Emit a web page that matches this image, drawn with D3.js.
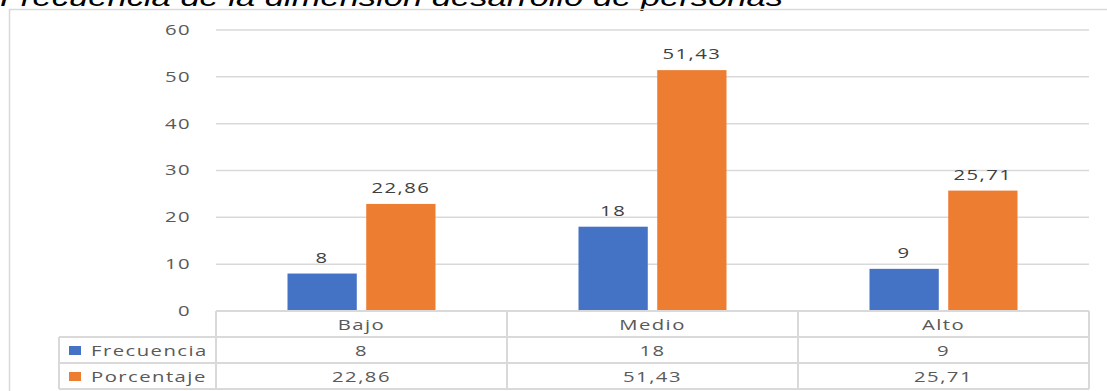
<!DOCTYPE html>
<html lang="es">
<head>
  <meta charset="UTF-8">
  <title>Frecuencia de la dimensión desarrollo de personas</title>
  <script src="https://d3js.org/d3.v7.min.js"></script>
  <style>
    body { margin: 0; background: white; font-family: "Open Sans", Arial, sans-serif; }
    svg { display: block; }
  </style>
</head>
<body>
<div id="chart"></div>
<script>
// data
var categories = ["Bajo", "Medio", "Alto"];
var seriesNames = ["Frecuencia", "Porcentaje"];
var frecuencia = [8, 18, 9];
var porcentaje = [22.86, 51.43, 25.71];
var tableFrecuencia = ["8", "18", "9"];
var tablePorcentaje = ["22,86", "51,43", "25,71"];
var yTicks = [0, 10, 20, 30, 40, 50, 60];
var colors = ["#4472c4", "#ed7d31"];

var width = 1107, height = 391;
var plotLeft = 216, plotRight = 1089, plotTop = 30, plotBottom = 311;
var rowH = 26;
var fs = 14, stretch = 1.45, spacing = 1;

var svg = d3.select("#chart").append("svg")
  .attr("width", width)
  .attr("height", height);

// place a horizontally stretched text at (x, y)
function put(sel, xf, yf) {
  sel.attr("transform", function(d, i){
    return "translate(" + xf(d, i) + "," + yf(d, i) + ") scale(" + stretch + ",1)";
  })
  .attr("font-size", fs)
  .attr("letter-spacing", spacing);
}

// title, cut off at the top
svg.append("text")
  .attr("x", 0).attr("y", 6)
  .attr("font-family", "Liberation Sans, Arial, sans-serif")
  .attr("font-style", "italic")
  .attr("font-size", 26)
  .attr("textLength", 783)
  .attr("lengthAdjust", "spacingAndGlyphs")
  .attr("fill", "#000")
  .text("Frecuencia de la dimensión desarrollo de personas");

// outer frame
svg.append("rect")
  .attr("x", 9.5).attr("y", 9.5)
  .attr("width", width).attr("height", height)
  .attr("fill", "none")
  .attr("stroke", "#d9d9d9")
  .attr("stroke-width", 1.5);

var y = d3.scaleLinear().domain([0, 60]).range([plotBottom, plotTop]);
var x0 = d3.scaleBand().domain(categories).range([plotLeft, plotRight]);
var x1 = d3.scaleBand().domain(seriesNames).range([0, 148]).paddingInner(0.12);

// gridlines
svg.append("g").selectAll("line")
  .data(yTicks.filter(function(d){ return d > 0; }))
  .enter().append("line")
  .attr("x1", plotLeft).attr("x2", plotRight)
  .attr("y1", function(d){ return y(d); })
  .attr("y2", function(d){ return y(d); })
  .attr("stroke", "#d9d9d9")
  .attr("stroke-width", 1.5);

// y axis labels
var yAxis = d3.axisLeft(y).tickValues(yTicks).tickSize(0).tickPadding(0);
var gy = svg.append("g")
  .attr("transform", "translate(191,0)")
  .call(yAxis);
gy.select(".domain").remove();
gy.selectAll("text")
  .attr("font-family", "Open Sans, sans-serif")
  .attr("font-size", fs)
  .attr("letter-spacing", spacing)
  .attr("transform", "scale(" + stretch + ",1)")
  .attr("fill", "#595959");

// bars
var series = [frecuencia, porcentaje];
var labels = [tableFrecuencia, tablePorcentaje];
function barX(i, s) {
  return x0(categories[i]) + x0.bandwidth() / 2 - 74 + x1(seriesNames[s]);
}
series.forEach(function(vals, s){
  var g = svg.append("g");
  g.selectAll("rect")
    .data(vals)
    .enter().append("rect")
    .attr("x", function(d, i){ return barX(i, s); })
    .attr("y", function(d){ return y(d); })
    .attr("width", x1.bandwidth())
    .attr("height", function(d){ return y(0) - y(d); })
    .attr("fill", colors[s]);
  g.selectAll("text")
    .data(vals)
    .enter().append("text")
    .call(put,
      function(d, i){ return barX(i, s) + x1.bandwidth() / 2; },
      function(d){ return y(d) - 11; })
    .attr("text-anchor", "middle")
    .attr("fill", "#404040")
    .text(function(d, i){ return labels[s][i]; });
});

// data table
var grid = "#d9d9d9";
var table = svg.append("g");
var legendLeft = 59;
// horizontal lines
[[plotLeft, plotBottom], [legendLeft, plotBottom + rowH], [legendLeft, plotBottom + 2 * rowH], [legendLeft, plotBottom + 3 * rowH]]
  .forEach(function(p){
    table.append("line")
      .attr("x1", p[0]).attr("x2", plotRight)
      .attr("y1", p[1]).attr("y2", p[1])
      .attr("stroke", grid).attr("stroke-width", 2);
  });
// vertical lines
table.append("line")
  .attr("x1", legendLeft).attr("x2", legendLeft)
  .attr("y1", plotBottom + rowH).attr("y2", plotBottom + 3 * rowH)
  .attr("stroke", grid).attr("stroke-width", 2);
[plotLeft].concat(categories.map(function(c){ return x0(c) + x0.bandwidth(); }))
  .forEach(function(xv){
    table.append("line")
      .attr("x1", xv).attr("x2", xv)
      .attr("y1", plotBottom).attr("y2", plotBottom + 3 * rowH)
      .attr("stroke", grid).attr("stroke-width", 2);
  });

// category labels and values
var rows = [categories, tableFrecuencia, tablePorcentaje];
rows.forEach(function(row, r){
  table.selectAll(".r" + r)
    .data(row)
    .enter().append("text")
    .call(put,
      function(d, i){ return x0(categories[i]) + x0.bandwidth() / 2; },
      function(){ return plotBottom + r * rowH + 19; })
    .attr("text-anchor", "middle")
    .attr("fill", "#595959")
    .text(function(d){ return d; });
});

// legend keys
seriesNames.forEach(function(name, s){
  var ry = plotBottom + (s + 1) * rowH;
  table.append("rect")
    .attr("x", 69).attr("y", ry + 9)
    .attr("width", 12).attr("height", 9)
    .attr("fill", colors[s]);
  table.append("text")
    .datum(name)
    .call(put, function(){ return 91; }, function(){ return ry + 19; })
    .attr("fill", "#595959")
    .text(name);
});
</script>
</body>
</html>
